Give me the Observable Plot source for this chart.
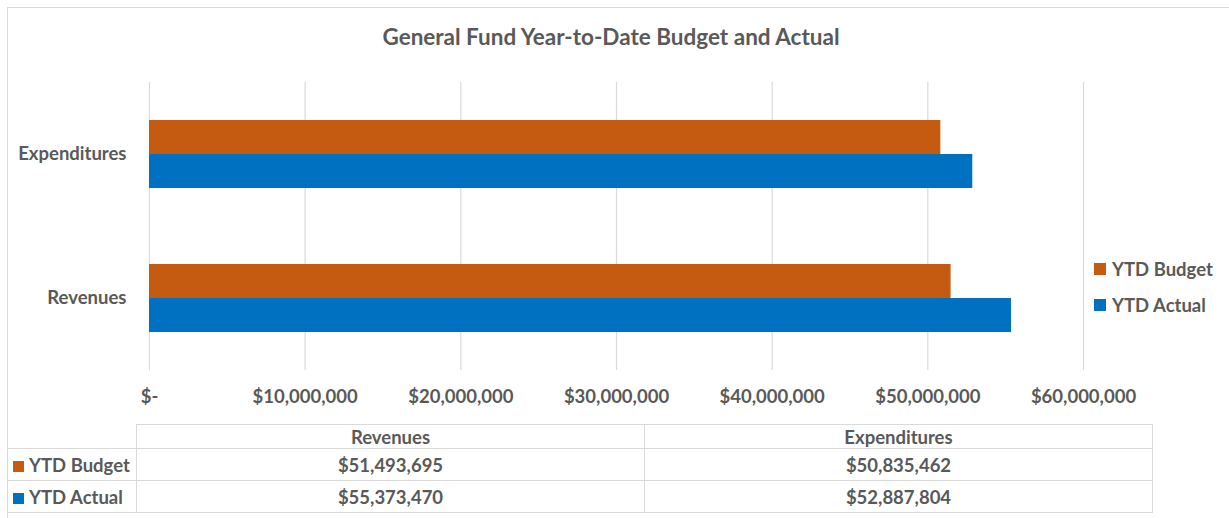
<!DOCTYPE html>
<html>
<head>
<meta charset="utf-8">
<script src="https://cdn.jsdelivr.net/npm/d3@7"></script>
<script src="https://cdn.jsdelivr.net/npm/@observablehq/plot@0.6"></script>
<style>
  html, body { margin: 0; padding: 0; background: #fff; }
  #wrap { position: relative; width: 1229px; height: 518px; overflow: hidden;
          font-family: Lato, "Liberation Sans", sans-serif; font-weight: bold; color: #595959; }
  #frameTop { position: absolute; left: 7px; top: 7px; width: 1222px; height: 1px; background: #d9d9d9; }
  #frameLeft { position: absolute; left: 7px; top: 7px; width: 1px; height: 511px; background: #d9d9d9; }
  #title { position: absolute; top: 23px; left: 0; width: 1222px; text-align: center; font-size: 22.5px; }
  #chart { position: absolute; left: 0; top: 0; }
  #legend { position: absolute; left: 1094px; top: 251px; font-size: 18.5px; }
  .lg { display: flex; align-items: center; height: 36px; }
  .sw { width: 12px; height: 12px; margin-right: 6px; display: inline-block; }
  #tbl { position: absolute; left: 7px; top: 424px; border-collapse: collapse; font-size: 18.5px; }
  #tbl td { border: 1px solid #d9d9d9; padding: 0; text-align: center; }
  #tbl td.lab { text-align: left; padding-left: 6px; border-left: none; white-space: nowrap; }
  #tbl tr.head td { height: 23px; }
  #tbl tr.head td.blank { border-top: none; border-left: none; }
  #tbl tr.val td { height: 31px; }
</style>
</head>
<body>
<div id="wrap">
  <div id="frameTop"></div>
  <div id="frameLeft"></div>
  <div id="chart"></div>
  <div id="title"></div>
  <div id="legend"></div>
  <table id="tbl"></table>
</div>
<script>
const titleText = "General Fund Year-to-Date Budget and Actual";
const categories = ["Expenditures", "Revenues"];
const tableColumns = ["Revenues", "Expenditures"];
const series = ["YTD Budget", "YTD Actual"];
const colors = ["#C55A11", "#0070C0"];
const budgetValues = { Revenues: 51493695, Expenditures: 50835462 };
const actualValues = { Revenues: 55373470, Expenditures: 52887804 };
const xTicks = [0, 10000000, 20000000, 30000000, 40000000, 50000000, 60000000];

const valuesBySeries = { "YTD Budget": budgetValues, "YTD Actual": actualValues };
const rows = [];
for (const c of categories) for (const s of series) rows.push({ category: c, series: s, value: valuesBySeries[s][c] });

const money = d => d === 0 ? "$-" : "$" + d3.format(",")(d);

document.getElementById("title").textContent = titleText;

const chart = Plot.plot({
  width: 1229,
  height: 420,
  marginTop: 82,
  marginBottom: 50,
  marginLeft: 149,
  marginRight: 146,
  style: { fontFamily: "Lato, 'Liberation Sans', sans-serif", fontSize: "18.5px", fontWeight: "bold", color: "#595959", background: "transparent" },
  x: { domain: [0, 60000000], ticks: xTicks, tickFormat: money, tickSize: 0, tickPadding: 19, label: null },
  y: { domain: series, axis: null, paddingInner: 0, paddingOuter: 1.087 },
  fy: { domain: categories, padding: 0, axis: "left", tickSize: 0, tickPadding: 23, label: null },
  color: { domain: series, range: colors },
  marks: [
    Plot.ruleX(xTicks, { stroke: "#d9d9d9", strokeWidth: 1.2 }),
    Plot.barX(rows, { x: "value", y: "series", fy: "category", fill: "series", inset: 0 })
  ]
});
document.getElementById("chart").appendChild(chart);

// legend
const legend = document.getElementById("legend");
series.forEach((s, i) => {
  const row = document.createElement("div");
  row.className = "lg";
  const sw = document.createElement("span");
  sw.className = "sw";
  sw.style.background = colors[i];
  const t = document.createElement("span");
  t.textContent = s;
  row.appendChild(sw); row.appendChild(t);
  legend.appendChild(row);
});

// data table
const tbl = document.getElementById("tbl");
const head = document.createElement("tr");
head.className = "head";
const blank = document.createElement("td");
blank.className = "blank";
blank.style.width = "129px";
head.appendChild(blank);
tableColumns.forEach(c => {
  const td = document.createElement("td");
  td.style.width = "507px";
  td.textContent = c;
  head.appendChild(td);
});
tbl.appendChild(head);
series.forEach((s, i) => {
  const tr = document.createElement("tr");
  tr.className = "val";
  const lab = document.createElement("td");
  lab.className = "lab";
  lab.innerHTML = `<span class="sw" style="background:${colors[i]};width:11px;height:11px;margin-right:5px"></span>`;
  lab.appendChild(document.createTextNode(s));
  tr.appendChild(lab);
  tableColumns.forEach(c => {
    const td = document.createElement("td");
    td.textContent = money(valuesBySeries[s][c]);
    tr.appendChild(td);
  });
  tbl.appendChild(tr);
});
</script>
</body>
</html>
